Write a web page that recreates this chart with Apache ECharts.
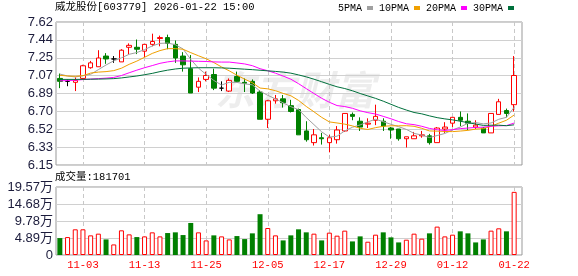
<!DOCTYPE html>
<html><head><meta charset="utf-8">
<script src="https://cdn.jsdelivr.net/npm/echarts@6/dist/echarts.min.js"></script>
<style>html,body{margin:0;padding:0;background:#fff}#c{width:578px;height:276px}</style>
</head><body><div id="c"></div><script>
const dates = ['10-29','10-30','10-31','11-03','11-04','11-05','11-06','11-07','11-10','11-11',
'11-12','11-13','11-14','11-17','11-18','11-19','11-20','11-21','11-24','11-25',
'11-26','11-27','11-28','12-01','12-02','12-03','12-04','12-05','12-08','12-09',
'12-10','12-11','12-12','12-15','12-16','12-17','12-18','12-19','12-22','12-23',
'12-24','12-25','12-26','12-29','12-30','12-31','01-05','01-06','01-07','01-08',
'01-09','01-12','01-13','01-14','01-15','01-16','01-19','01-20','01-21','01-22'];
const shownDates = ['11-03','11-13','11-25','12-05','12-17','12-29','01-12','01-22'];
const opens = [7.04,7.01,7.00,7.04,7.15,7.16,7.27,7.24,7.21,7.36,
7.36,7.32,7.39,7.45,7.46,7.39,7.27,7.14,6.95,7.03,
7.08,6.94,6.91,7.06,7.00,7.01,6.90,6.62,6.81,6.83,
6.76,6.72,6.50,6.38,6.43,6.38,6.41,6.50,6.67,6.60,
6.57,6.61,6.60,6.53,6.52,6.42,6.42,6.45,6.45,6.38,
6.52,6.58,6.64,6.60,6.54,6.53,6.48,6.67,6.71,6.77];
const closes = [7.01,7.01,7.02,7.17,7.20,7.25,7.24,7.24,7.33,7.38,
7.34,7.39,7.42,7.46,7.40,7.25,7.18,6.89,7.01,7.07,
6.94,6.94,7.02,7.01,6.99,6.89,6.62,6.81,6.83,6.79,
6.70,6.46,6.41,6.46,6.42,6.43,6.51,6.68,6.65,6.54,
6.58,6.65,6.55,6.51,6.42,6.44,6.45,6.46,6.38,6.53,
6.54,6.64,6.61,6.58,6.56,6.48,6.68,6.80,6.68,7.07];
const lows = [6.94,6.96,6.91,7.03,7.14,7.16,7.19,7.20,7.21,7.29,
7.29,7.26,7.37,7.37,7.34,7.20,7.11,6.89,6.90,7.01,
6.92,6.91,6.90,7.00,6.90,6.88,6.62,6.53,6.78,6.74,
6.69,6.46,6.39,6.35,6.36,6.28,6.37,6.49,6.61,6.50,
6.53,6.56,6.50,6.42,6.40,6.33,6.42,6.43,6.36,6.38,
6.48,6.54,6.55,6.51,6.52,6.48,6.48,6.67,6.64,6.70];
const highs = [7.09,7.03,7.05,7.18,7.22,7.33,7.30,7.27,7.34,7.40,
7.44,7.39,7.50,7.48,7.49,7.43,7.31,7.28,7.05,7.11,
7.14,7.01,7.04,7.11,7.04,7.03,6.92,6.82,6.87,6.87,
6.82,6.73,6.60,6.52,6.48,6.46,6.55,6.68,6.69,6.64,
6.63,6.77,6.63,6.54,6.52,6.44,6.49,6.50,6.47,6.54,
6.59,6.64,6.70,6.68,6.61,6.54,6.68,6.83,6.73,7.27];
const prevClose = 7.06;
const volumes = [48700,51600,73900,73900,56500,61400,44900,30400,71000,59400,
51600,53600,65200,53600,63200,65200,57400,92200,65200,42000,
56500,53600,44900,54500,45800,62300,117400,77700,56500,42000,
56500,73900,65200,61400,42000,64300,55600,70100,39100,53600,
38200,58500,65200,50700,36200,44000,61400,47000,62300,81700,
53600,58500,68100,62300,36200,44900,70100,76800,68100,181701];
const ma5 = [7.085,7.065,7.055,7.068,7.082,7.130,7.178,7.221,7.251,7.288,
7.306,7.336,7.374,7.400,7.404,7.386,7.343,7.236,7.146,7.081,
7.019,6.972,7.000,6.999,6.984,6.974,6.909,6.866,6.830,6.789,
6.749,6.719,6.638,6.565,6.491,6.437,6.446,6.501,6.538,6.562,
6.593,6.621,6.595,6.568,6.544,6.516,6.475,6.458,6.432,6.453,
6.474,6.511,6.540,6.579,6.586,6.573,6.582,6.620,6.640,6.743];
const ma10 = [7.072,7.065,7.062,7.068,7.095,7.105,7.110,7.120,7.145,7.185,
7.218,7.257,7.297,7.326,7.346,7.346,7.340,7.305,7.273,7.242,
7.203,7.158,7.118,7.073,7.032,6.996,6.941,6.933,6.914,6.886,
6.862,6.814,6.752,6.697,6.640,6.593,6.582,6.570,6.552,6.527,
6.515,6.534,6.548,6.553,6.553,6.554,6.548,6.527,6.500,6.498,
6.495,6.493,6.499,6.506,6.519,6.524,6.547,6.580,6.610,6.664];
const ma20 = [7.015,7.018,7.022,7.028,7.033,7.038,7.043,7.050,7.070,7.098,
7.125,7.150,7.172,7.195,7.210,7.220,7.220,7.218,7.216,7.214,
7.210,7.208,7.208,7.199,7.189,7.171,7.140,7.119,7.094,7.064,
7.032,6.986,6.935,6.885,6.836,6.795,6.761,6.751,6.733,6.707,
6.688,6.674,6.650,6.625,6.597,6.574,6.565,6.548,6.526,6.513,
6.505,6.513,6.524,6.530,6.536,6.539,6.548,6.553,6.555,6.581];
const ma30 = [7.030,7.030,7.030,7.031,7.032,7.033,7.035,7.038,7.045,7.055,
7.065,7.078,7.092,7.110,7.125,7.137,7.145,7.148,7.150,7.150,
7.150,7.148,7.145,7.140,7.135,7.130,7.124,7.118,7.112,7.105,
7.094,7.076,7.056,7.032,7.006,6.979,6.954,6.936,6.913,6.885,
6.860,6.835,6.806,6.774,6.742,6.715,6.690,6.676,6.655,6.637,
6.624,6.614,6.600,6.585,6.571,6.557,6.559,6.559,6.554,6.563];
const priceTicks = ['6.15','6.33','6.52','6.70','6.89','7.07','7.25','7.44','7.62'];
const volTicks = ['0','4.89万','9.78万','14.68万','19.57万'];
const priceMin = 6.15, priceMax = 7.62, volMax = 195700;

const UP = '#ff0000', DOWN = '#008000';
const mono = '"Liberation Mono","Noto Sans CJK SC",monospace';
const sans = '"Liberation Sans","Noto Sans CJK SC",sans-serif';
const showIdx = (i) => shownDates.indexOf(dates[i]) >= 0;

const candleData = dates.map((d, i) => [opens[i], closes[i], lows[i], highs[i]]);
const volData = volumes.map((v, i) => {
  const pc = i === 0 ? prevClose : closes[i - 1];
  const up = closes[i] >= pc;
  return { value: v, itemStyle: up ? { color: '#fff', borderColor: UP, borderWidth: 1 } : { color: DOWN, borderColor: DOWN, borderWidth: 0 } };
});

const chart = echarts.init(document.getElementById('c'), null, { renderer: 'canvas' });
const dashed = { show: true, interval: (i) => showIdx(i), alignWithLabel: true, lineStyle: { color: '#c8c8c8', type: [4, 3], width: 1 } };
const maLine = (name, data, color) => ({
  name, type: 'line', data, xAxisIndex: 0, yAxisIndex: 0, showSymbol: false, symbol: 'none',
  lineStyle: { width: 1, color }, itemStyle: { color }, silent: true, z: 3
});

chart.setOption({
  animation: false,
  backgroundColor: '#fff',
  title: [
    { text: '威龙股份[603779] 2026-01-22 15:00', left: 55, top: 2, padding: 0,
      textStyle: { fontFamily: mono, fontSize: 10.5, fontWeight: 'normal', color: '#000' } },
    { text: '成交量:' + volumes[volumes.length - 1], left: 55, top: 172, padding: 0,
      textStyle: { fontFamily: mono, fontSize: 10.5, fontWeight: 'normal', color: '#000' } }
  ],
  legend: {
    left: 338, top: 3, padding: 0, itemWidth: 6, itemHeight: 4, itemGap: 6, align: 'right', icon: 'rect',
    textStyle: { fontFamily: mono, fontSize: 10, color: '#000', padding: [0, 0, 0, 0] },
    data: ['5PMA', '10PMA', '20PMA', '30PMA']
  },
  graphic: [{
    type: 'text', left: 215, top: 74, z: -10, silent: true,
    style: { text: '东方财富', fontSize: 40, fontWeight: 'bold', fontStyle: 'italic', fontFamily: sans, fill: 'rgba(0,0,0,0.07)' }
  }],
  grid: [
    { left: 56, top: 22, width: 462, height: 143, show: false },
    { left: 56, top: 187, width: 462, height: 68, show: false },
    { left: 56, top: 22, width: 466, height: 143, show: true, borderColor: '#999', borderWidth: 1, backgroundColor: 'transparent' },
    { left: 56, top: 187, width: 466, height: 68, show: true, borderColor: '#999', borderWidth: 1, backgroundColor: 'transparent' }
  ],
  xAxis: [
    { type: 'category', gridIndex: 0, data: dates, boundaryGap: true,
      axisLine: { show: false }, axisTick: { show: false }, axisLabel: { show: false }, splitLine: dashed },
    { type: 'category', gridIndex: 1, data: dates, boundaryGap: true,
      axisLine: { show: false }, axisTick: { show: false },
      axisLabel: { show: true, interval: (i) => showIdx(i), color: UP, fontFamily: mono, fontSize: 10.5, margin: 5 },
      splitLine: dashed },
    { type: 'value', gridIndex: 2, min: 0, max: 1, show: false },
    { type: 'value', gridIndex: 3, min: 0, max: 1, show: false }
  ],
  yAxis: [
    { type: 'value', gridIndex: 0, min: priceMin, max: priceMax, show: false, splitLine: { show: false } },
    { type: 'value', gridIndex: 1, min: 0, max: volMax, show: false, splitLine: { show: false } },
    { type: 'value', gridIndex: 2, min: priceMin, max: priceMax, interval: (priceMax - priceMin) / 8,
      axisLine: { show: false }, axisTick: { show: false },
      axisLabel: { formatter: (v, i) => priceTicks[i], color: '#1c1c3c', fontFamily: sans, fontSize: 13, margin: 3 },
      splitLine: { show: true, lineStyle: { color: '#d0d0d0', width: 1 } } },
    { type: 'value', gridIndex: 3, min: 0, max: volMax, interval: volMax / 4,
      axisLine: { show: false }, axisTick: { show: false },
      axisLabel: { formatter: (v, i) => volTicks[i], color: '#1c1c3c', fontFamily: sans, fontSize: 13, margin: 3 },
      splitLine: { show: true, lineStyle: { color: '#d0d0d0', width: 1 } } }
  ],
  series: [
    { name: 'K', type: 'candlestick', xAxisIndex: 0, yAxisIndex: 0, data: candleData, barWidth: 5, z: 2,
      itemStyle: { color: '#fff', color0: DOWN, borderColor: UP, borderColor0: DOWN, borderColorDoji: '#000', borderWidth: 1 } },
    maLine('5PMA', ma5, '#a0a0a0'),
    maLine('10PMA', ma10, '#f0a000'),
    maLine('20PMA', ma20, '#ff00ff'),
    maLine('30PMA', ma30, '#00703c'),
    { name: 'VOL', type: 'bar', xAxisIndex: 1, yAxisIndex: 1, data: volData, barWidth: 5 }
  ]
});
</script></body></html>
